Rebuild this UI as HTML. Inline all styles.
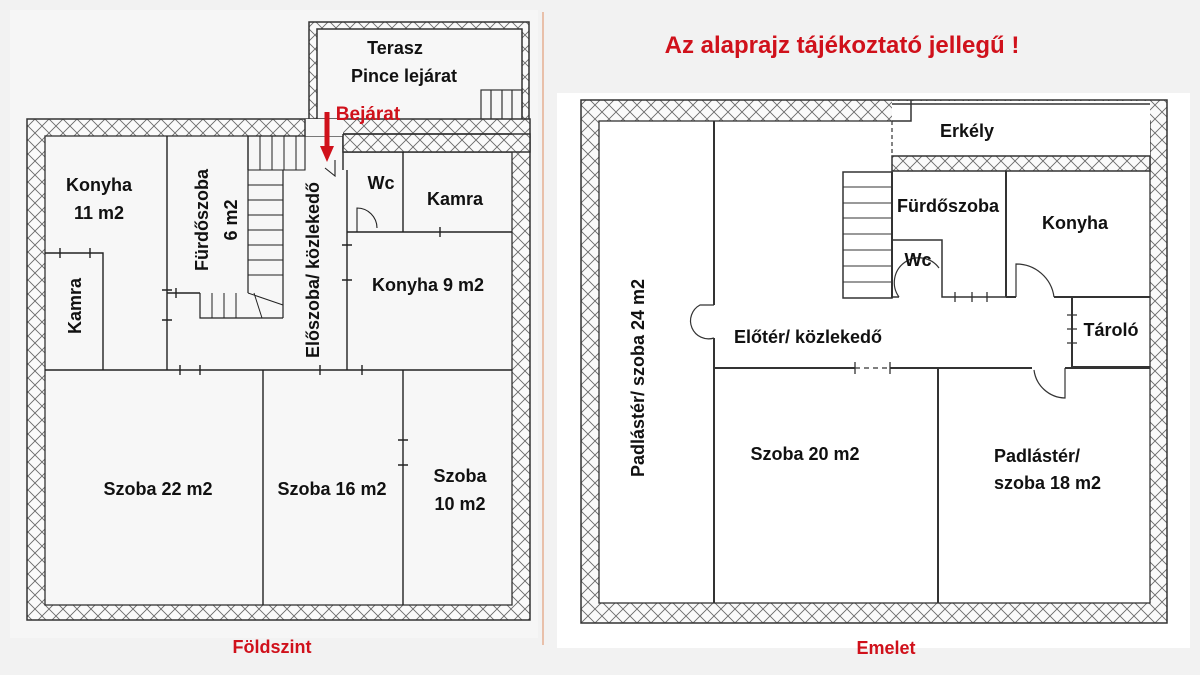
<!DOCTYPE html>
<html><head><meta charset="utf-8"><style>
html,body{margin:0;padding:0;background:#f2f2f2;}
svg{display:block}
text{font-family:"Liberation Sans",sans-serif;font-weight:bold;fill:#111;font-size:18px;}
.r{fill:#d0111b}
</style></head><body>
<svg width="1200" height="675" viewBox="0 0 1200 675" xmlns="http://www.w3.org/2000/svg">
<defs>
<pattern id="h" width="14" height="14" patternUnits="userSpaceOnUse">
<rect width="14" height="14" fill="#fafafa"/>
<path d="M0 0L14 14M14 0L0 14" stroke="#6a6a6a" stroke-width="0.9"/>
</pattern>
</defs>
<rect width="1200" height="675" fill="#f2f2f2"/>
<!-- LEFT PLAN -->
<rect x="10" y="10" width="528" height="628" fill="#f6f6f6"/>
<g stroke="#333" stroke-width="1.5">
<rect x="309" y="22" width="220" height="112" fill="url(#h)"/>
<rect x="317" y="29" width="205" height="105" fill="#f7f7f7"/>
<g fill="none" stroke-width="1.2"><rect x="481" y="90" width="41" height="44"/><path d="M491 90V134M502 90V134M512 90V134"/></g>
<rect x="27" y="119" width="503" height="501" fill="url(#h)"/>
<rect x="45" y="136" width="467" height="469" fill="#f7f7f7" stroke-width="1.3"/>
<rect x="343" y="134" width="187" height="18" fill="url(#h)"/>
<rect x="305" y="119" width="38" height="17" fill="#f7f7f7" stroke="none"/>
<rect x="343" y="136" width="169" height="16" fill="url(#h)" stroke="none"/>
<path d="M343 134H512M343 152H512M343 134V170" fill="none"/>
<rect x="308" y="119" width="35" height="15" fill="#f7f7f7" stroke="none"/>
<path d="M305 119V136" />
</g>
<g stroke="#222" stroke-width="1.4" fill="none">
<path d="M45 253H103V370"/><path d="M60 248V258M90 248V258"/>
<path d="M167 136V370"/><path d="M162 290H172M162 320H172"/>
<path d="M167 293H200M176 288V298"/>
<path d="M248 136V170"/>
<path d="M248 136H305V170H248" stroke-width="1.1"/>
<path d="M260 136V170M272 136V170M284 136V170M296 136V170" stroke-width="1"/>
<path d="M248 170V293M283 170V318M200 293V318H283" stroke-width="1.2"/>
<path d="M248 185H283M248 200H283M248 215H283M248 230H283M248 245H283M248 260H283M248 275H283" stroke-width="1"/>
<path d="M212 293V318M224 293V318M236 293V318M248 293L283 305M254 293L262 318" stroke-width="1"/>
<path d="M347 170V370"/><path d="M342 245H352M342 280H352"/>
<path d="M347 232H512M403 152V232"/><path d="M440 227V237"/>
<path d="M357 232V208A20 20 0 0 1 377 228" stroke-width="1.1"/>
<path d="M335 160V176L325 168" stroke-width="1.1"/>
<path d="M45 370H512"/><path d="M180 365V375M200 365V375M320 365V375M362 365V375"/>
<path d="M263 370V605M403 370V605"/><path d="M398 440H408M398 465H408"/>
</g>
<path d="M327 112V148" stroke="#d0111b" stroke-width="5"/>
<path d="M320 146L327 162L334 146Z" fill="#d0111b"/>
<line x1="543" y1="12" x2="543" y2="645" stroke="#e3a07a" stroke-width="1.2"/>
<text x="395" y="54" text-anchor="middle">Terasz</text>
<text x="404" y="82" text-anchor="middle">Pince lejárat</text>
<text x="368" y="120" text-anchor="middle" class="r" style="font-size:19px">Bejárat</text>
<text x="99" y="191" text-anchor="middle">Konyha</text>
<text x="99" y="219" text-anchor="middle">11 m2</text>
<text transform="translate(81,306) rotate(-90)" text-anchor="middle">Kamra</text>
<text transform="translate(208,220) rotate(-90)" text-anchor="middle">Fürdőszoba</text>
<text transform="translate(237,220) rotate(-90)" text-anchor="middle">6 m2</text>
<text transform="translate(319,270) rotate(-90)" text-anchor="middle">Előszoba/ közlekedő</text>
<text x="381" y="189" text-anchor="middle">Wc</text>
<text x="455" y="205" text-anchor="middle">Kamra</text>
<text x="428" y="291" text-anchor="middle">Konyha 9 m2</text>
<text x="158" y="495" text-anchor="middle">Szoba 22 m2</text>
<text x="332" y="495" text-anchor="middle">Szoba 16 m2</text>
<text x="460" y="482" text-anchor="middle">Szoba</text>
<text x="460" y="510" text-anchor="middle">10 m2</text>
<text x="272" y="653" text-anchor="middle" class="r">Földszint</text>
<text x="842" y="53" text-anchor="middle" class="r" style="font-size:24px">Az alaprajz tájékoztató jellegű !</text>
<!-- RIGHT PLAN -->
<rect x="557" y="93" width="633" height="555" fill="#fff"/>
<g stroke="#333" stroke-width="1.5">
<rect x="581" y="100" width="586" height="523" fill="url(#h)"/>
<rect x="599" y="121" width="551" height="482" fill="#fff" stroke-width="1.3"/>
<rect x="892" y="101" width="258" height="55" fill="#fff" stroke="none"/>
<path d="M892 104H1150M911 100V121H892" fill="none"/>
<rect x="892" y="156" width="258" height="15" fill="url(#h)"/>
</g>
<g stroke="#333" stroke-width="2" fill="none">
<path d="M892 121V156" stroke-dasharray="4 3" stroke-width="1.2"/>
<path d="M714 121V305M714 338V603"/>
<path d="M714 305H700A18 18 0 0 0 714 338" stroke-width="1.2"/>
<rect x="843" y="172" width="49" height="126" stroke-width="1.5"/>
<path d="M843 187H892M843 203H892M843 218H892M843 234H892M843 250H892M843 266H892M843 282H892" stroke-width="1"/>
<path d="M892 172V298M1006 171V297"/>
<path d="M892 240H942V297H1006M892 297H899" stroke-width="1.5"/>
<path d="M899 297A20 20 0 0 1 939 268" stroke-width="1.2"/>
<path d="M955 292V302M972 292V302M987 292V302" stroke-width="1.3"/>
<path d="M1006 297H1016M1054 297H1150" />
<path d="M1016 297V264A38 38 0 0 1 1054 297" stroke-width="1.2"/>
<path d="M1072 297V367H1150"/>
<path d="M1067 315H1077M1067 329H1077M1067 343H1077" stroke-width="1.3"/>
<path d="M714 368H855M890 368H1032M1065 368H1150"/>
<path d="M855 368H890" stroke-dasharray="5 4" stroke-width="1.2"/>
<path d="M855 362V374M890 362V374" stroke-width="1.3"/>
<path d="M1065 368V398A32 32 0 0 1 1034 370" stroke-width="1.2"/>
<path d="M938 368V603"/>
</g>
<text x="967" y="137" text-anchor="middle">Erkély</text>
<text x="948" y="212" text-anchor="middle">Fürdőszoba</text>
<text x="1075" y="229" text-anchor="middle">Konyha</text>
<text x="918" y="266" text-anchor="middle">Wc</text>
<text x="1111" y="336" text-anchor="middle">Tároló</text>
<text x="808" y="343" text-anchor="middle">Előtér/ közlekedő</text>
<text transform="translate(644,378) rotate(-90)" text-anchor="middle">Padlástér/ szoba 24 m2</text>
<text x="805" y="460" text-anchor="middle">Szoba 20 m2</text>
<text x="994" y="462">Padlástér/</text>
<text x="994" y="489">szoba 18 m2</text>
<text x="886" y="654" text-anchor="middle" class="r">Emelet</text>
</svg>
</body></html>
